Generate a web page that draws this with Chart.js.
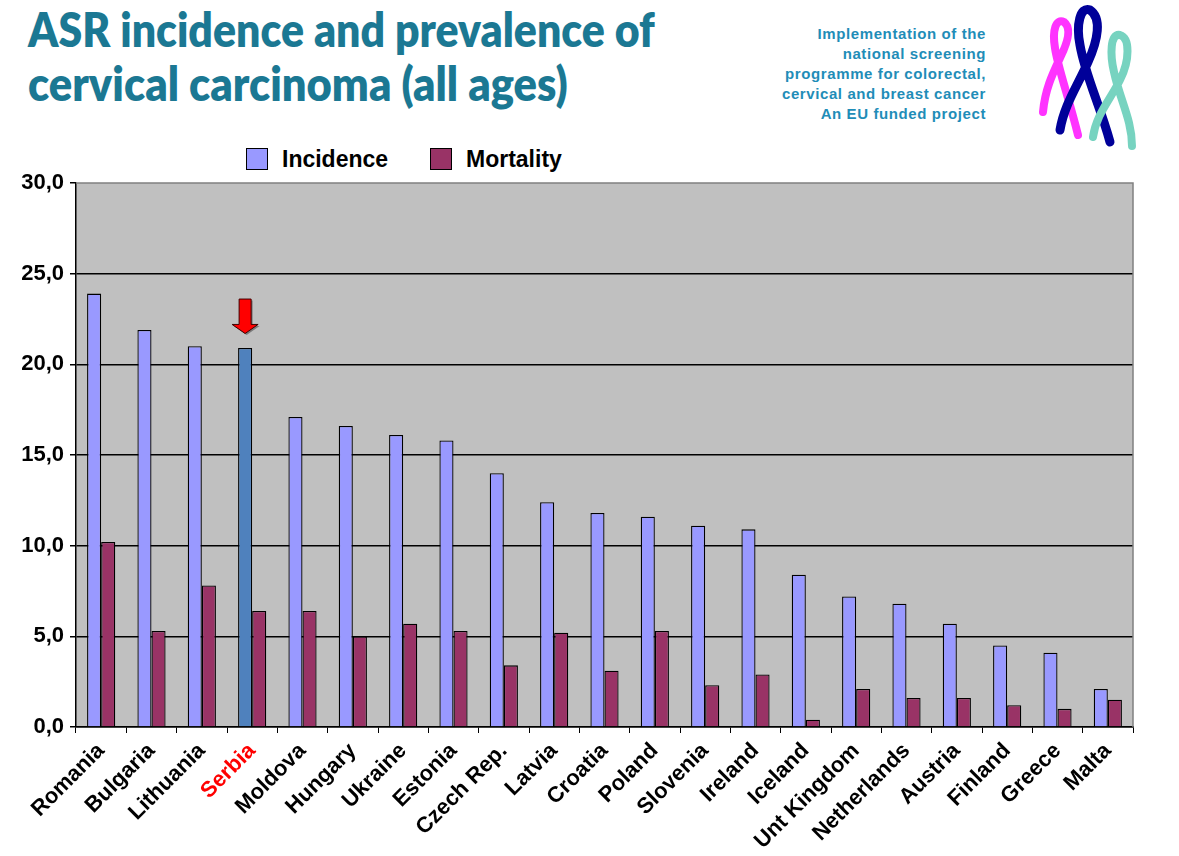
<!DOCTYPE html>
<html>
<head>
<meta charset="utf-8">
<script src="https://cdn.jsdelivr.net/npm/chart.js@4.4.0/dist/chart.umd.min.js"></script>
<style>
  body { margin: 0; width: 1179px; height: 856px; overflow: hidden; background: #fff; font-family: "Liberation Sans", Arial, sans-serif; }
  .title { position: absolute; left: 28px; font-family: Lato, "Open Sans", sans-serif; font-weight: 800; color: #1B7893; font-size: 47px; white-space: nowrap; transform-origin: 0 0; line-height: 1; }
  .side { position: absolute; right: 193px; top: 24px; text-align: right; color: #1F8DB8; font-weight: bold; font-size: 15px; letter-spacing: 0.6px; line-height: 20px; }
  .legend { position: absolute; top: 148px; font-weight: bold; font-size: 23px; }
  .legend span.box { position: absolute; top: 0; width: 22px; height: 22px; border: 1px solid #000; box-sizing: border-box; }
  .legend span.txt { position: absolute; top: -2px; white-space: nowrap; }
  canvas { position: absolute; left: 0; top: 0; }
</style>
</head>
<body>
<div class="title" id="t1" style="top:6px">ASR incidence and prevalence of</div>
<div class="title" id="t2" style="top:60px">cervical carcinoma (all ages)</div>
<div class="side">Implementation of the<br>national screening<br>programme for colorectal,<br>cervical and breast cancer<br>An EU funded project</div>

<svg style="position:absolute;left:0;top:0" width="1179" height="160">
  <g fill="none" stroke-linecap="round">
    <path d="M1043,112 C1045,90 1052,75 1060,58 C1068,42 1072,28 1064,22 C1056,18 1052,30 1055,48 C1058,68 1068,95 1078,135" stroke="#FF33FF" stroke-width="8"/>
    <path d="M1060,130 C1064,105 1078,85 1088,62 C1098,40 1102,18 1090,10 C1080,6 1076,25 1080,45 C1085,75 1100,105 1110,142" stroke="#000099" stroke-width="9"/>
    <path d="M1093,137 C1096,115 1110,100 1120,80 C1130,60 1130,38 1120,35 C1110,33 1110,55 1114,72 C1120,100 1132,120 1132,146" stroke="#77D3C0" stroke-width="8"/>
  </g>
</svg>

<div class="legend" style="left:246px"><span class="box" style="left:0;background:#9999FF"></span><span class="txt" style="left:36px">Incidence</span></div>
<div class="legend" style="left:430px"><span class="box" style="left:0;background:#993366"></span><span class="txt" style="left:36px">Mortality</span></div>

<canvas id="chart" width="1179" height="856"></canvas>

<script>
const countries = ['Romania', 'Bulgaria', 'Lithuania', 'Serbia', 'Moldova', 'Hungary', 'Ukraine',
  'Estonia', 'Czech Rep.', 'Latvia', 'Croatia', 'Poland', 'Slovenia', 'Ireland', 'Iceland',
  'Unt Kingdom', 'Netherlands', 'Austria', 'Finland', 'Greece', 'Malta'];
const incidence = [23.9, 21.9, 21.0, 20.9, 17.1, 16.6, 16.1, 15.8, 14.0, 12.4, 11.8, 11.6, 11.1, 10.9,
  8.4, 7.2, 6.8, 5.7, 4.5, 4.1, 2.1];
const mortality = [10.2, 5.3, 7.8, 6.4, 6.4, 5.0, 5.7, 5.3, 3.4, 5.2, 3.1, 5.3, 2.3, 2.9,
  0.4, 2.1, 1.6, 1.6, 1.2, 1.0, 1.5];
const yTicks = [0, 5, 10, 15, 20, 25, 30];
const highlight = 'Serbia';
// arrow above the highlighted bar, in data units
const arrowTop = 23.6, arrowNeck = 22.2, arrowTip = 21.7;

// fit title lines to the widths seen in the picture
[['t1', 627], ['t2', 540]].forEach(([id, w]) => {
  const el = document.getElementById(id);
  el.style.transform = 'scaleX(' + (w / el.offsetWidth) + ')';
});

const hi = countries.indexOf(highlight);

const plotBg = {
  id: 'plotBg',
  beforeDraw(chart) {
    const { ctx, chartArea: a } = chart;
    ctx.save();
    ctx.fillStyle = '#C0C0C0';
    ctx.fillRect(a.left, a.top, a.right - a.left, a.bottom - a.top);
    ctx.restore();
  },
  afterDraw(chart) {
    const { ctx, chartArea: a } = chart;
    ctx.save();
    ctx.strokeStyle = '#808080';
    ctx.lineWidth = 1.5;
    ctx.beginPath();
    ctx.moveTo(a.left, a.top);
    ctx.lineTo(a.right, a.top);
    ctx.lineTo(a.right, a.bottom);
    ctx.stroke();
    ctx.restore();
  }
};

const arrow = {
  id: 'arrow',
  afterDatasetsDraw(chart) {
    const bar = chart.getDatasetMeta(0).data[hi];
    const y = chart.scales.y;
    const x = bar.x;
    const t = y.getPixelForValue(arrowTop), n = y.getPixelForValue(arrowNeck), p = y.getPixelForValue(arrowTip);
    const ctx = chart.ctx;
    const shape = (dx, dy) => {
      ctx.beginPath();
      ctx.moveTo(x - 6 + dx, t + dy);
      ctx.lineTo(x + 6 + dx, t + dy);
      ctx.lineTo(x + 6 + dx, n + dy);
      ctx.lineTo(x + 13 + dx, n + dy);
      ctx.lineTo(x + dx, p + dy);
      ctx.lineTo(x - 13 + dx, n + dy);
      ctx.lineTo(x - 6 + dx, n + dy);
      ctx.closePath();
    };
    ctx.save();
    shape(1.5, 1.5);
    ctx.fillStyle = '#7a7a7a';
    ctx.fill();
    shape(0, 0);
    ctx.fillStyle = '#FF0000';
    ctx.fill();
    ctx.strokeStyle = '#400000';
    ctx.lineWidth = 1;
    ctx.stroke();
    ctx.restore();
  }
};

new Chart(document.getElementById('chart'), {
  type: 'bar',
  data: {
    labels: countries,
    datasets: [{
      label: 'Incidence',
      data: incidence,
      backgroundColor: ctx => ctx.dataIndex === hi ? '#4F81BD' : '#9999FF',
      borderColor: '#000',
      borderWidth: 1.3,
      categoryPercentage: 0.56,
      barPercentage: 1
    }, {
      label: 'Mortality',
      data: mortality,
      backgroundColor: '#993366',
      borderColor: '#000',
      borderWidth: 1.3,
      categoryPercentage: 0.56,
      barPercentage: 1
    }]
  },
  options: {
    responsive: false,
    animation: false,
    layout: { padding: { top: 183, right: 46, left: 0, bottom: 0 } },
    plugins: { legend: { display: false }, tooltip: { enabled: false } },
    scales: {
      x: {
        afterFit: s => { s.height = 129; },
        grid: { offset: true, drawOnChartArea: false, color: '#000', tickLength: 6 },
        border: { color: '#000', width: 1.5 },
        ticks: {
          autoSkip: false, minRotation: 45, maxRotation: 45, padding: 5,
          color: ctx => ctx.index === hi ? '#FF0000' : '#000',
          font: { family: '"Liberation Sans", Arial', size: 22, weight: 'bold' }
        }
      },
      y: {
        min: 0, max: 30,
        afterFit: s => { s.width = 76; },
        afterBuildTicks: s => { s.ticks = yTicks.map(v => ({ value: v })); },
        grid: { color: ctx => ctx.tick && ctx.tick.value === 30 ? 'rgba(0,0,0,0)' : '#000', tickColor: '#000', tickLength: 6, lineWidth: 1.5 },
        border: { color: '#000', width: 1.5 },
        ticks: {
          padding: 6, color: '#000',
          callback: v => v.toFixed(1).replace('.', ','),
          font: { family: '"Liberation Sans", Arial', size: 22, weight: 'bold' }
        }
      }
    }
  },
  plugins: [plotBg, arrow]
});
</script>
</body>
</html>
